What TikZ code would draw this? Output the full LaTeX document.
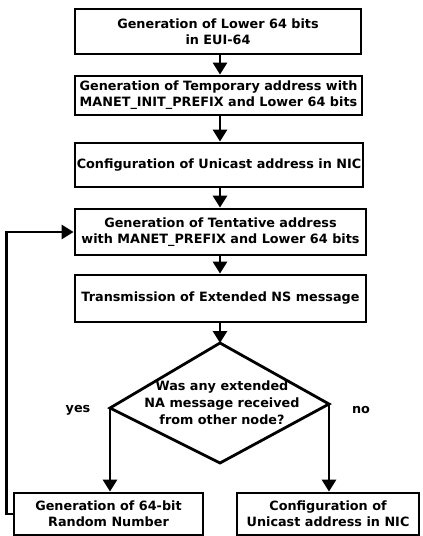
\documentclass[tikz,border=0pt]{standalone}
\usepackage{fontspec}
\setmainfont{DejaVu Sans}
\usetikzlibrary{arrows.meta}
\begin{document}
\begin{tikzpicture}[x=1pt,y=-1pt,
  box/.style={draw, line width=2.8pt, align=center, inner sep=0pt, font=\bfseries\fontsize{12.8}{16}\selectfont},
  arr/.style={line width=2.8pt, -{Triangle[width=14pt,length=12pt]}},
  lbl/.style={font=\bfseries\fontsize{12.8}{15}\selectfont},
  dtext/.style={align=center, inner sep=0pt, font=\bfseries\fontsize{12.8}{17}\selectfont}]
\useasboundingbox (0,0) rectangle (423,536);
\node[box, minimum width=286pt, minimum height=45pt] (b1) at (218,31.5) {Generation of Lower 64 bits\\in EUI-64};
\node[box, minimum width=287pt, minimum height=39pt] (b2) at (218.5,95.5) {Generation of Temporary address with\\MANET\_INIT\_PREFIX and Lower 64 bits};
\node[box, minimum width=288pt, minimum height=44pt] (b3) at (219,165) {Configuration of Unicast address in NIC};
\node[box, minimum width=291pt, minimum height=46pt] (b4) at (220.5,232) {Generation of Tentative address\\with MANET\_PREFIX and Lower 64 bits};
\node[box, minimum width=291pt, minimum height=47pt] (b5) at (220.5,298.5) {Transmission of Extended NS message};
\coordinate (spine) at (220,0);
\coordinate (dtop) at (220,343);
\coordinate (dr) at (329,404);
\coordinate (dbot) at (220,463);
\coordinate (dl) at (110,408);
\draw[line width=2.8pt, line join=miter] (dtop) -- (dr) -- (dbot) -- (dl) -- cycle;
\node[dtext] (q) at (222,403) {Was any extended\\NA message received\\from other node?};
\node[box, minimum width=189pt, minimum height=42pt] (b6) at (108.5,514) {Generation of 64-bit\\Random Number};
\node[box, minimum width=182pt, minimum height=42pt] (b7) at (328,514) {Configuration of\\Unicast address in NIC};
\node[lbl] (yes) at (78,410) {yes};
\node[lbl] (no) at (361,410) {no};
\draw[arr] (spine |- b1.south) -- (spine |- b2.north);
\draw[arr] (spine |- b2.south) -- (spine |- b3.north);
\draw[arr] (spine |- b3.south) -- (spine |- b4.north);
\draw[arr] (spine |- b4.south) -- (spine |- b5.north);
\draw[arr] (spine |- b5.south) -- (dtop);
\draw[arr] (dl) -- (dl |- b6.north);
\draw[arr] (dr) -- (dr |- b7.north);
\draw[arr] (b6.west) -- ++(-6,0) |- (b4.west);
\end{tikzpicture}
\end{document}
